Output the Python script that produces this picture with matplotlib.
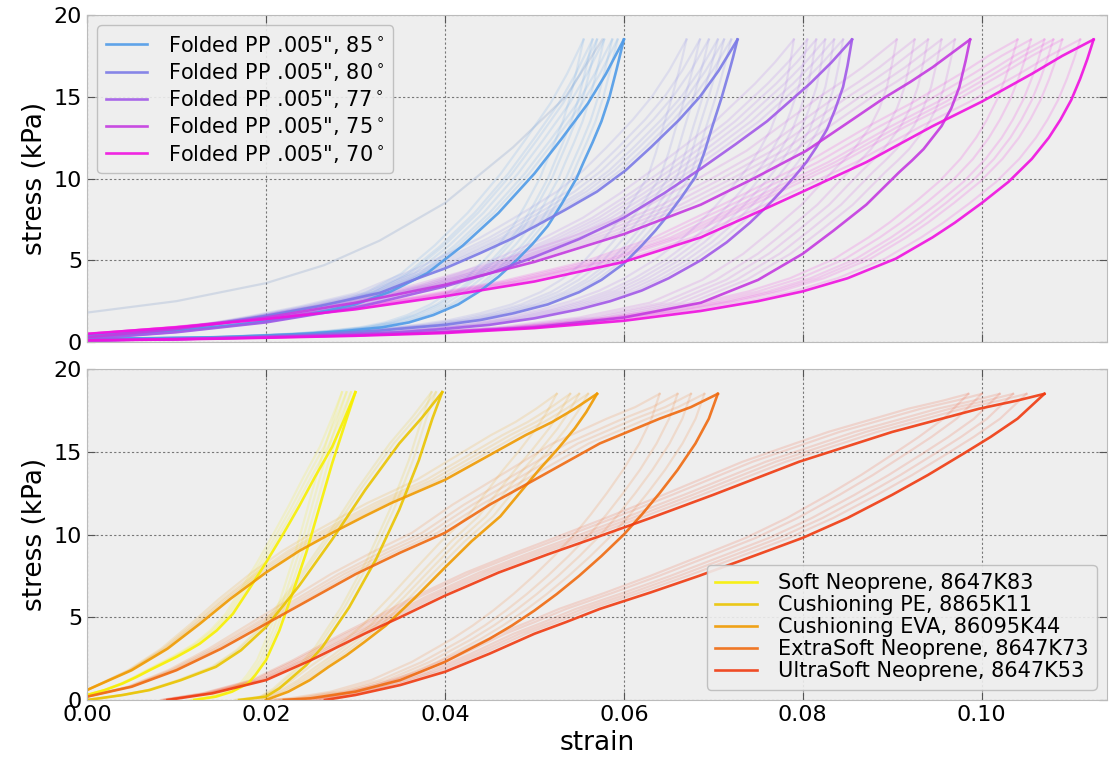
import numpy as np
import matplotlib.pyplot as plt

# --- Top panel: folded PP, last cycle (loading / unloading) ---
pp_labels = ['Folded PP .005", 85$^\\circ$', 'Folded PP .005", 80$^\\circ$',
             'Folded PP .005", 77$^\\circ$', 'Folded PP .005", 75$^\\circ$',
             'Folded PP .005", 70$^\\circ$']

pp85_load_x = [0.0, 0.005, 0.010, 0.015, 0.020, 0.025, 0.030, 0.034, 0.038, 0.042, 0.046, 0.050, 0.053, 0.056, 0.058, 0.060]
pp85_load_y = [0.4, 0.55, 0.72, 0.95, 1.25, 1.7, 2.3, 3.1, 4.2, 5.9, 7.9, 10.3, 12.4, 14.6, 16.4, 18.5]
pp85_unload_x = [0.060, 0.0592, 0.0584, 0.0575, 0.0565, 0.0555, 0.0547, 0.053, 0.0515, 0.0498, 0.048, 0.046,
                 0.044, 0.0415, 0.0387, 0.036, 0.033, 0.029, 0.025, 0.020, 0.015, 0.008, 0.0]
pp85_unload_y = [18.5, 16.7, 15.0, 13.5, 12.2, 11.0, 10.0, 8.4, 7.1, 6.0, 5.0, 4.0,
                 3.15, 2.3, 1.65, 1.2, 0.9, 0.68, 0.52, 0.4, 0.3, 0.24, 0.2]

pp80_load_x = [0.0, 0.005, 0.010, 0.015, 0.020, 0.026, 0.0327, 0.036, 0.040, 0.044, 0.0476, 0.0505, 0.0535,
               0.057, 0.0602, 0.063, 0.0662, 0.0685, 0.0706, 0.0727]
pp80_load_y = [0.3, 0.5, 0.8, 1.15, 1.6, 2.2, 3.0, 3.7, 4.5, 5.45, 6.35, 7.2, 8.1,
               9.2, 10.5, 11.9, 13.6, 15.0, 16.6, 18.5]
pp80_unload_x = [0.0727, 0.0722, 0.0718, 0.0709, 0.0699, 0.069, 0.068, 0.0665, 0.065, 0.0635, 0.062, 0.060,
                 0.0575, 0.055, 0.0515, 0.0476, 0.044, 0.040, 0.0327, 0.025, 0.015, 0.0]
pp80_unload_y = [18.5, 17.4, 16.6, 14.9, 13.2, 11.6, 10.1, 8.9, 7.8, 6.8, 5.9, 4.8,
                 3.8, 3.05, 2.3, 1.75, 1.35, 1.05, 0.7, 0.45, 0.25, 0.1]

pp77_load_x = [0.0, 0.010, 0.020, 0.030, 0.040, 0.045, 0.050, 0.055, 0.060, 0.0645, 0.0686, 0.0725, 0.076,
               0.0785, 0.0808, 0.0832, 0.0855]
pp77_load_y = [0.2, 0.6, 1.2, 2.1, 3.4, 4.2, 5.2, 6.3, 7.6, 9.1, 10.6, 12.1, 13.5,
               14.7, 15.8, 17.1, 18.5]
pp77_unload_x = [0.0855, 0.0850, 0.0845, 0.0836, 0.0827, 0.0815, 0.0804, 0.0792, 0.0779, 0.076, 0.0741,
                 0.0715, 0.0686, 0.065, 0.062, 0.0585, 0.055, 0.050, 0.045, 0.040, 0.035, 0.028, 0.020,
                 0.010, 0.0]
pp77_unload_y = [18.5, 16.9, 15.6, 14.2, 13.0, 11.9, 11.0, 10.2, 9.4, 8.3, 7.3,
                 6.1, 5.0, 3.9, 3.15, 2.5, 2.0, 1.45, 1.05, 0.8, 0.6, 0.45, 0.3,
                 0.18, 0.1]

pp75_load_x = [0.0, 0.010, 0.020, 0.030, 0.040, 0.050, 0.060, 0.0686, 0.0745, 0.0804, 0.085, 0.0893,
               0.092, 0.0945, 0.0987]
pp75_load_y = [0.3, 0.8, 1.5, 2.4, 3.5, 4.9, 6.6, 8.4, 10.0, 11.7, 13.4, 15.0,
               15.9, 16.8, 18.5]
pp75_unload_x = [0.0987, 0.0982, 0.0975, 0.0966, 0.0955, 0.0935, 0.0922, 0.0908, 0.0871, 0.0834, 0.080,
                 0.075, 0.0686, 0.060, 0.050, 0.040, 0.030, 0.020, 0.010, 0.0]
pp75_unload_y = [18.5, 17.2, 15.6, 14.3, 13.2, 11.8, 11.1, 10.4, 8.4, 6.8, 5.4,
                 3.8, 2.4, 1.5, 0.9, 0.6, 0.42, 0.3, 0.18, 0.1]

pp70_load_x = [0.0, 0.010, 0.020, 0.030, 0.040, 0.050, 0.060, 0.0686, 0.076, 0.080, 0.0871, 0.0945,
               0.100, 0.1056, 0.109, 0.1125]
pp70_load_y = [0.5, 0.9, 1.4, 2.0, 2.8, 3.7, 4.9, 6.4, 8.2, 9.2, 11.0, 13.2,
               14.7, 16.4, 17.5, 18.5]
pp70_unload_x = [0.1125, 0.1118, 0.1110, 0.1100, 0.1088, 0.1075, 0.1056, 0.1030, 0.100, 0.097, 0.0945,
                 0.0904, 0.085, 0.080, 0.075, 0.0686, 0.060, 0.050, 0.040, 0.030, 0.020, 0.010, 0.0]
pp70_unload_y = [18.5, 17.3, 16.1, 14.8, 13.6, 12.5, 11.2, 9.8, 8.5, 7.3, 6.4,
                 5.1, 3.9, 3.1, 2.5, 1.9, 1.3, 0.85, 0.55, 0.38, 0.26, 0.16, 0.1]

# first loading of the 85 deg sample (faint line starting near 2 kPa)
pp85_first_x = [0.0, 0.010, 0.020, 0.0265, 0.0327, 0.040, 0.0476, 0.0535, 0.0576]
pp85_first_y = [1.8, 2.5, 3.6, 4.7, 6.2, 8.5, 11.9, 15.0, 18.5]

# peak strains of the earlier (faint) cycles
pp85_prev_peaks = [0.0555, 0.0565, 0.057, 0.0578, 0.0587, 0.0593]
pp80_prev_peaks = [0.067, 0.0685, 0.0695, 0.0705, 0.0712, 0.072]
pp77_prev_peaks = [0.079, 0.0805, 0.0815, 0.0825, 0.0835, 0.0845]
pp75_prev_peaks = [0.0905, 0.0925, 0.094, 0.0955, 0.097]
pp70_prev_peaks = [0.104, 0.1055, 0.107, 0.108, 0.109, 0.111]

# --- Bottom panel: foams ---
foam_labels = ["Soft Neoprene, 8647K83", "Cushioning PE, 8865K11",
               "Cushioning EVA, 86095K44", "ExtraSoft Neoprene, 8647K73",
               "UltraSoft Neoprene, 8647K53"]

soft_load_x = [0.0, 0.002, 0.004, 0.0055, 0.007, 0.0085, 0.010, 0.0115, 0.0126, 0.0145, 0.0163, 0.018,
               0.020, 0.022, 0.0237, 0.0255, 0.0274, 0.0287, 0.030]
soft_load_y = [0.3, 0.6, 1.0, 1.38, 1.8, 2.2, 2.6, 3.05, 3.4, 4.2, 5.2, 6.6,
               8.3, 10.1, 11.7, 13.5, 15.3, 16.9, 18.6]
soft_unload_x = [0.030, 0.0289, 0.0274, 0.0259, 0.0245, 0.023, 0.0215, 0.020, 0.0188, 0.018, 0.0162,
                 0.0144, 0.012]
soft_unload_y = [18.6, 16.8, 14.3, 11.5, 8.9, 6.5, 4.2, 2.4, 1.5, 1.0, 0.5,
                 0.2, 0.0]

pe_load_x = [0.0, 0.0014, 0.004, 0.007, 0.0105, 0.0144, 0.0172, 0.020, 0.0237, 0.0274, 0.0311, 0.0349,
             0.0375, 0.0397]
pe_load_y = [0.0, 0.1, 0.3, 0.6, 1.2, 2.0, 3.0, 4.4, 6.9, 9.7, 12.7, 15.5,
             17.1, 18.6]
pe_unload_x = [0.0397, 0.0386, 0.0371, 0.0349, 0.0323, 0.0293, 0.0263, 0.0245, 0.023, 0.0215, 0.020, 0.017]
pe_unload_y = [18.6, 17.0, 14.5, 11.5, 8.5, 5.6, 3.2, 2.1, 1.4, 0.7, 0.2, 0.0]

eva_load_x = [0.0, 0.005, 0.009, 0.0126, 0.016, 0.020, 0.0237, 0.0274, 0.031, 0.034, 0.037, 0.040,
              0.043, 0.046, 0.049, 0.052, 0.0545, 0.057]
eva_load_y = [0.6, 1.8, 3.1, 4.6, 6.1, 7.7, 9.0, 10.1, 11.1, 11.9, 12.6, 13.3,
              14.2, 15.1, 16.0, 16.8, 17.6, 18.5]
eva_unload_x = [0.057, 0.0558, 0.0545, 0.0525, 0.0505, 0.0485, 0.0462, 0.043, 0.040, 0.0367, 0.0334,
                0.031, 0.029, 0.027, 0.0249, 0.0225, 0.020]
eva_unload_y = [18.5, 17.4, 16.4, 15.1, 13.9, 12.6, 11.1, 9.6, 8.0, 6.2, 4.5,
                3.5, 2.7, 2.0, 1.2, 0.5, 0.0]

xsoft_load_x = [0.0, 0.005, 0.010, 0.015, 0.020, 0.025, 0.030, 0.035, 0.040, 0.045, 0.050, 0.0573,
                0.064, 0.0675, 0.0705]
xsoft_load_y = [0.2, 0.8, 1.8, 3.1, 4.6, 6.1, 7.6, 8.9, 10.1, 11.8, 13.3, 15.5,
                17.0, 17.7, 18.5]
xsoft_unload_x = [0.0705, 0.0695, 0.068, 0.066, 0.064, 0.062, 0.060, 0.0575, 0.055, 0.0525, 0.050,
                  0.0475, 0.045, 0.040, 0.035, 0.030, 0.025, 0.022]
xsoft_unload_y = [18.5, 17.0, 15.5, 13.9, 12.5, 11.2, 10.0, 8.7, 7.5, 6.4, 5.4,
                  4.5, 3.7, 2.3, 1.2, 0.5, 0.1, 0.0]

usoft_load_x = [0.009, 0.014, 0.020, 0.025, 0.031, 0.035, 0.040, 0.046, 0.0515, 0.0573, 0.063, 0.070,
                0.0796, 0.090, 0.0997, 0.104, 0.107]
usoft_load_y = [0.0, 0.4, 1.2, 2.4, 4.0, 5.0, 6.3, 7.7, 8.8, 9.9, 11.0, 12.4,
                14.4, 16.2, 17.6, 18.1, 18.5]
usoft_unload_x = [0.107, 0.104, 0.101, 0.098, 0.094, 0.090, 0.085, 0.080, 0.075, 0.0684, 0.063, 0.0573,
                  0.0535, 0.050, 0.045, 0.040, 0.035, 0.030, 0.0266]
usoft_unload_y = [18.5, 17.0, 15.9, 14.9, 13.6, 12.4, 11.0, 9.8, 8.8, 7.5, 6.5, 5.5,
                  4.7, 4.0, 2.8, 1.7, 0.9, 0.3, 0.0]

soft_prev_peaks = [0.0285, 0.029, 0.0295]
pe_prev_peaks = [0.0385, 0.039]
eva_prev_peaks = [0.0525, 0.054, 0.055, 0.056]
xsoft_prev_peaks = [0.064, 0.066, 0.0675, 0.069]
usoft_prev_peaks = [0.0985, 0.100, 0.102, 0.1035, 0.105]

pp_colors = ["#4f9be8", "#7b7ae6", "#a25ae8", "#c43ae0", "#f010e0"]
foam_colors = ["#f8f000", "#eac400", "#f09a00", "#f06a10", "#f03a10"]

pp_sets = [
    (pp85_load_x, pp85_load_y, pp85_unload_x, pp85_unload_y, pp85_prev_peaks),
    (pp80_load_x, pp80_load_y, pp80_unload_x, pp80_unload_y, pp80_prev_peaks),
    (pp77_load_x, pp77_load_y, pp77_unload_x, pp77_unload_y, pp77_prev_peaks),
    (pp75_load_x, pp75_load_y, pp75_unload_x, pp75_unload_y, pp75_prev_peaks),
    (pp70_load_x, pp70_load_y, pp70_unload_x, pp70_unload_y, pp70_prev_peaks),
]
foam_sets = [
    (soft_load_x, soft_load_y, soft_unload_x, soft_unload_y, soft_prev_peaks),
    (pe_load_x, pe_load_y, pe_unload_x, pe_unload_y, pe_prev_peaks),
    (eva_load_x, eva_load_y, eva_unload_x, eva_unload_y, eva_prev_peaks),
    (xsoft_load_x, xsoft_load_y, xsoft_unload_x, xsoft_unload_y, xsoft_prev_peaks),
    (usoft_load_x, usoft_load_y, usoft_unload_x, usoft_unload_y, usoft_prev_peaks),
]

fig = plt.figure(figsize=(11.11, 7.65), dpi=100)
ax1 = fig.add_axes([0.0783, 0.5529, 0.9181, 0.4275])
ax2 = fig.add_axes([0.0783, 0.0850, 0.9181, 0.4326], sharex=ax1)


def draw(ax, sets, colors, labels):
    # faint earlier cycles first, then the last cycle on top
    for (lx, ly, ux, uy, peaks), c in zip(sets, colors):
        for p in peaks:
            s = p / lx[-1]
            ax.plot(np.array(lx) * s, ly, color=c, alpha=0.15, lw=1.6)
            ax.plot(np.array(ux) * s, uy, color=c, alpha=0.15, lw=1.6)
    for (lx, ly, ux, uy, peaks), c, lab in zip(sets, colors, labels):
        ax.plot(lx, ly, color=c, alpha=0.9, lw=1.9, label=lab)
        ax.plot(ux, uy, color=c, alpha=0.9, lw=1.9)


ax1.plot(pp85_first_x, pp85_first_y, color="#8fa8d0", alpha=0.3, lw=1.6)
draw(ax1, pp_sets, pp_colors, pp_labels)
draw(ax2, foam_sets, foam_colors, foam_labels)

for ax in (ax1, ax2):
    ax.set_facecolor("#eeeeee")
    ax.set_xlim(0, 0.114)
    ax.set_ylim(0, 20)
    ax.set_yticks([0, 5, 10, 15, 20])
    ax.grid(True, color="#777777", linestyle=(0, (2, 2)), lw=0.8)
    ax.tick_params(direction="in", top=True, right=True, length=6,
                   labelsize=16, color="#555555")
    for sp in ax.spines.values():
        sp.set_color("#bbbbbb")
    ax.set_ylabel("stress (kPa)", fontsize=19)

ax2.set_xticks([0, 0.02, 0.04, 0.06, 0.08, 0.10])
ax2.xaxis.set_major_formatter(plt.FormatStrFormatter("%.2f"))
ax1.tick_params(labelbottom=False)
ax2.set_xlabel("strain", fontsize=19)

leg_kw = dict(fontsize=15, handlelength=2.0, handletextpad=1.0,
              fancybox=True, facecolor="#eeeeee", edgecolor="#bbbbbb", framealpha=0.9)
ax1.legend(loc="upper left", labelspacing=0.25, **leg_kw)
ax2.legend(loc="lower right", labelspacing=0.1, **leg_kw)

fig.savefig("out.png", dpi=100)
